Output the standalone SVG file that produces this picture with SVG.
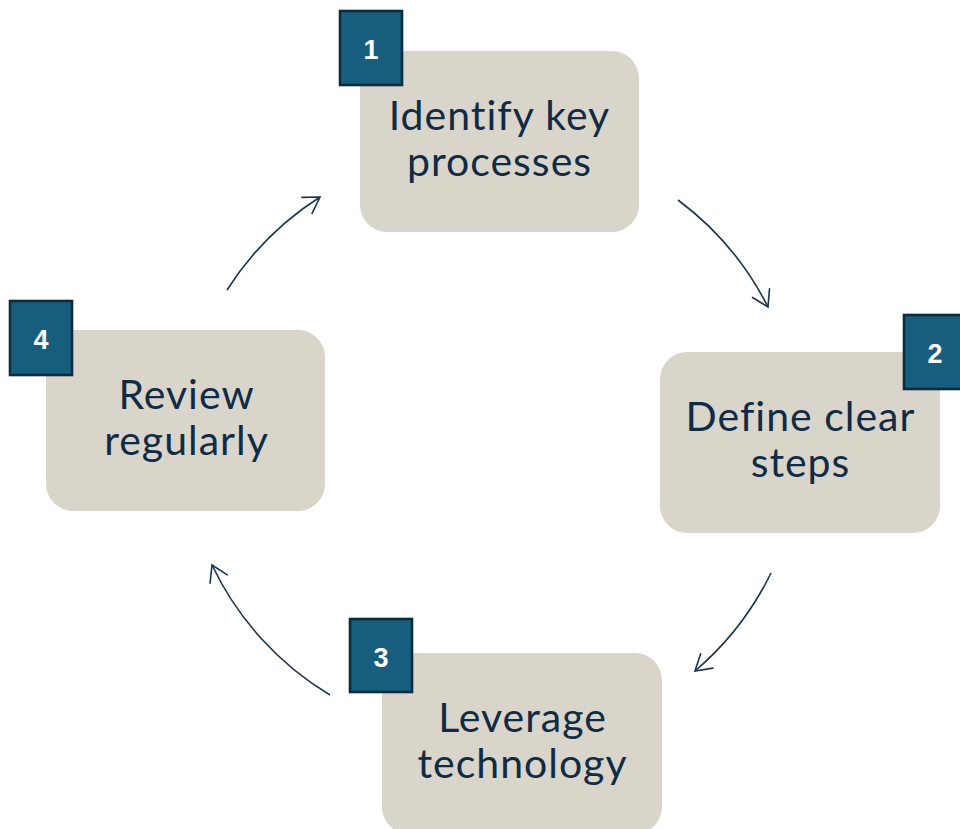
<svg xmlns="http://www.w3.org/2000/svg" width="960" height="829" viewBox="0 0 960 829">
  <defs>
    <marker id="chevron" markerUnits="userSpaceOnUse" markerWidth="40" markerHeight="40" viewBox="-20 -20 40 40" refX="0" refY="0" orient="auto">
      <path d="M-15.5,-9.5 L0,0 L-15.5,9.5" fill="none" stroke="#1a3550" stroke-width="1.6" stroke-linecap="round" stroke-linejoin="miter"/>
    </marker>
  </defs>
  <style>
    .card { fill: #d9d5cb; }
    .badge { fill: #175e7e; stroke: #0c2b3d; stroke-width: 2.6; }
    .num { font-family: "Liberation Sans", Arial, sans-serif; font-weight: bold; font-size: 27px; fill: #ffffff; text-anchor: middle; }
    .label { font-family: Lato, "Open Sans", sans-serif; font-size: 41px; letter-spacing: 1px; font-variant-ligatures: none; fill: #102b45; text-anchor: middle; }
    .link { fill: none; stroke: #1a3550; stroke-width: 1.6; marker-end: url(#chevron); }
  </style>
  <rect width="960" height="829" fill="#ffffff"/>

  <!-- curved connectors around the cycle -->
  <g id="connectors">
    <path class="link" d="M227,290 A305,305 0 0 1 320,197"/>
    <path class="link" d="M678,200 A305,305 0 0 1 768,307"/>
    <path class="link" d="M771,573 A305,305 0 0 1 695,671"/>
    <path class="link" d="M330,695 A305,305 0 0 1 212,565"/>
  </g>

  <g id="step1">
    <rect class="card" x="360" y="51" width="279" height="181" rx="27"/>
    <rect class="badge" x="340" y="11" width="62" height="74"/>
    <text class="num" x="371" y="59">1</text>
    <text class="label" x="499.5" y="130">Identify key</text>
    <text class="label" x="499.5" y="176">processes</text>
  </g>

  <g id="step2">
    <rect class="card" x="660" y="352" width="280" height="181" rx="27"/>
    <rect class="badge" x="904" y="315" width="62" height="74"/>
    <text class="num" x="935" y="363">2</text>
    <text class="label" x="800.5" y="431">Define clear</text>
    <text class="label" x="800.5" y="477">steps</text>
  </g>

  <g id="step3">
    <rect class="card" x="382" y="653" width="280" height="181" rx="27"/>
    <rect class="badge" x="350" y="619" width="62" height="73"/>
    <text class="num" x="381" y="667">3</text>
    <text class="label" x="522.5" y="732">Leverage</text>
    <text class="label" x="522.5" y="778">technology</text>
  </g>

  <g id="step4">
    <rect class="card" x="46" y="330" width="279" height="181" rx="27"/>
    <rect class="badge" x="10" y="301" width="62" height="74"/>
    <text class="num" x="41" y="349">4</text>
    <text class="label" x="186.5" y="409">Review</text>
    <text class="label" x="186.5" y="455">regularly</text>
  </g>
</svg>
